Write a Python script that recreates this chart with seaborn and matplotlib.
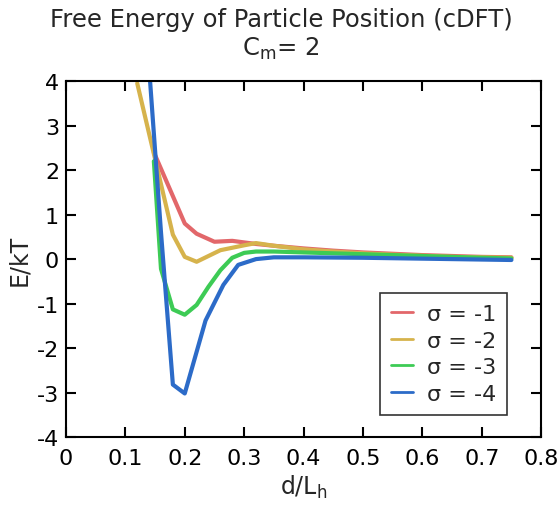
import matplotlib
matplotlib.use("Agg")
import matplotlib.pyplot as plt
import seaborn as sns
import pandas as pd

# ---- data ----
labels = ["σ = -1", "σ = -2", "σ = -3", "σ = -4"]
colors = ["#E2676A", "#D6B34C", "#3DCB55", "#2C6BC8"]

x_s1 = [0.148, 0.20, 0.22, 0.25, 0.28, 0.32, 0.35, 0.40, 0.45, 0.50, 0.55, 0.60, 0.65, 0.70, 0.75]
y_s1 = [2.40, 0.80, 0.57, 0.39, 0.41, 0.34, 0.30, 0.24, 0.19, 0.15, 0.12, 0.09, 0.07, 0.05, 0.04]

x_s2 = [0.12, 0.18, 0.20, 0.22, 0.26, 0.30, 0.32, 0.35, 0.40, 0.45, 0.50, 0.55, 0.60, 0.65, 0.70, 0.75]
y_s2 = [3.95, 0.55, 0.05, -0.06, 0.20, 0.31, 0.36, 0.30, 0.22, 0.17, 0.13, 0.10, 0.075, 0.05, 0.04, 0.03]

x_s3 = [0.148, 0.16, 0.18, 0.20, 0.22, 0.24, 0.26, 0.28, 0.30, 0.32, 0.35, 0.40, 0.45, 0.50, 0.55, 0.60, 0.65, 0.70, 0.75]
y_s3 = [2.20, -0.22, -1.13, -1.25, -1.03, -0.62, -0.25, 0.03, 0.14, 0.17, 0.17, 0.15, 0.13, 0.11, 0.09, 0.07, 0.05, 0.03, 0.015]

x_s4 = [0.14, 0.16, 0.18, 0.20, 0.235, 0.265, 0.29, 0.32, 0.35, 0.40, 0.50, 0.60, 0.70, 0.75]
y_s4 = [4.30, 0.60, -2.82, -3.02, -1.38, -0.58, -0.13, 0.00, 0.04, 0.04, 0.03, 0.01, -0.01, -0.02]

x_ticks = [0, 0.1, 0.2, 0.3, 0.4, 0.5, 0.6, 0.7, 0.8]
x_ticklabels = ["0", "0.1", "0.2", "0.3", "0.4", "0.5", "0.6", "0.7", "0.8"]
y_ticks = [-4, -3, -2, -1, 0, 1, 2, 3, 4]

frames = []
for lab, xs, ys in zip(labels, [x_s1, x_s2, x_s3, x_s4], [y_s1, y_s2, y_s3, y_s4]):
    frames.append(pd.DataFrame({"d": xs, "E": ys, "sigma": lab}))
df = pd.concat(frames, ignore_index=True)

sns.set_style("ticks")
plt.rcParams["font.family"] = ["DejaVu Sans"]
plt.rcParams["mathtext.default"] = "regular"

fig = plt.figure(figsize=(5.59, 5.10), dpi=100)
ax = fig.add_axes([0.118, 0.141, 0.850, 0.698])

sns.lineplot(data=df, x="d", y="E", hue="sigma", palette=colors,
             sort=False, estimator=None, linewidth=3.0, ax=ax, legend=True)

ax.set_xlim(0, 0.8)
ax.set_ylim(-4, 4)
ax.set_xticks(x_ticks)
ax.set_xticklabels(x_ticklabels)
ax.set_yticks(y_ticks)
ax.set_yticklabels([str(v) for v in y_ticks])
ax.tick_params(axis="both", direction="in", length=7, width=1.5, top=True, right=True,
               labelsize=16, colors="black")
ax.tick_params(axis="x", pad=8)
ax.tick_params(axis="y", pad=5)
for s in ax.spines.values():
    s.set_linewidth(1.5)
    s.set_color("black")

ax.set_xlabel("d/L$_h$", fontsize=17, labelpad=3)
ax.set_ylabel("E/kT", fontsize=17, labelpad=4)
fig.text(0.503, 1 - 8 / 510, "Free Energy of Particle Position (cDFT)\nC$_m$= 2",
         fontsize=17.5, ha="center", va="top", linespacing=1.2, multialignment="center")

leg = ax.legend(loc="lower right", bbox_to_anchor=(0.928, 0.062), fontsize=16,
                frameon=True, fancybox=False, edgecolor="black", borderaxespad=0,
                handlelength=1.0, handletextpad=0.6, borderpad=0.5, labelspacing=0.3)
leg.get_frame().set_linewidth(1.2)
for line in leg.get_lines():
    line.set_linewidth(2.0)

fig.savefig("out.png", dpi=100)
